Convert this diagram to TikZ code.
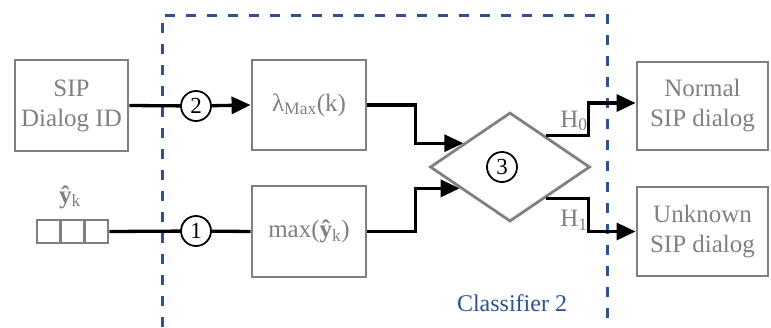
\documentclass[tikz,border=0pt]{standalone}
\usepackage{fontspec}
\setmainfont{Liberation Serif}
\usetikzlibrary{shapes.geometric,arrows.meta,calc}
\definecolor{boxgray}{RGB}{128,128,128}
\definecolor{frameblue}{RGB}{47,82,143}
\begin{document}
\begin{tikzpicture}[x=1pt,y=-1pt,
  box/.style={draw=boxgray,line width=2.8pt,text=boxgray,align=center,inner sep=0pt,font=\fontsize{25}{30}\selectfont},
  cell/.style={draw=boxgray,line width=2.8pt,minimum width=23.6pt,minimum height=23pt,inner sep=0pt},
  num/.style={circle,draw=black,fill=white,line width=1.8pt,minimum size=30pt,inner sep=0pt,font=\fontsize{23}{23}\selectfont},
  conn/.style={draw=black,line width=3.3pt},
  arr/.style={conn,-{Triangle[length=19pt,width=17pt]}},
  frame/.style={draw=frameblue,line width=3pt,dash pattern=on 10pt off 11pt},
  lbl/.style={text=boxgray,font=\fontsize{25}{30}\selectfont,inner sep=0pt}
]
\useasboundingbox (0,0) rectangle (771,327);
% classifier frame
\coordinate (fbl) at (162,327);
\coordinate (ftl) at (162,15);
\coordinate (ftr) at (607,15);
\coordinate (fbr) at (607,327);
\draw[frame] (fbl) -- (ftl) -- (ftr) -- (fbr);
\node[text=frameblue,font=\fontsize{24}{28}\selectfont,inner sep=0pt] (cls) at (512,303) {Classifier 2};
% boxes
\node[box,minimum width=113pt,minimum height=91pt] (sip) at (71.5,105.5) {SIP\\Dialog ID};
\node[box,minimum width=114pt,minimum height=90pt] (lam) at (309,105) {λ\textsubscript{Max}(k)};
\node[box,minimum width=114pt,minimum height=91pt] (mx) at (309,231.5) {max(\textbf{ŷ}\textsubscript{k})};
\node[box,minimum width=131pt,minimum height=88pt] (nrm) at (702.5,106) {Normal\\SIP dialog};
\node[box,minimum width=131pt,minimum height=89pt] (unk) at (702.5,231.5) {Unknown\\SIP dialog};
\node[diamond,draw=boxgray,line width=2.8pt,minimum width=160pt,minimum height=109pt,inner sep=0pt] (dia) at (510,167) {};
% vector
\node[cell] (v1) at (48.8,231.5) {};
\node[cell] (v2) at (72.5,231.5) {};
\node[cell] (v3) at (96.2,231.5) {};
\node[lbl] (yk) at (70,197) {\textbf{ŷ}\textsubscript{k}};
% numbered circles
\node[num] (c2) at (196,106) {2};
\node[num] (c1) at (196,231) {1};
\node[num] (c3) at (502,167) {3};
% connectors
\draw[conn] (sip.east) -- (c2);
\draw[arr] (c2) -- (lam.west);
\draw[conn] (v3.east) -- (c1);
\draw[conn] (c1) -- (mx.west);
\draw[arr] (lam.east) -- ++(48,0) |- (dia.153.4);
\draw[arr] (mx.east) -- ++(48,0) |- (dia.203);
\draw[arr] (dia.41.5) -| ([xshift=-47pt,yshift=3pt]nrm.west) -- ([yshift=3pt]nrm.west);
\draw[arr] (dia.319.4) -| ([xshift=-47pt]unk.west) -- (unk.west);
% hypothesis labels
\node[lbl] (h0) at (574,121) {H\textsubscript{0}};
\node[lbl] (h1) at (574,220) {H\textsubscript{1}};
\end{tikzpicture}
\end{document}
